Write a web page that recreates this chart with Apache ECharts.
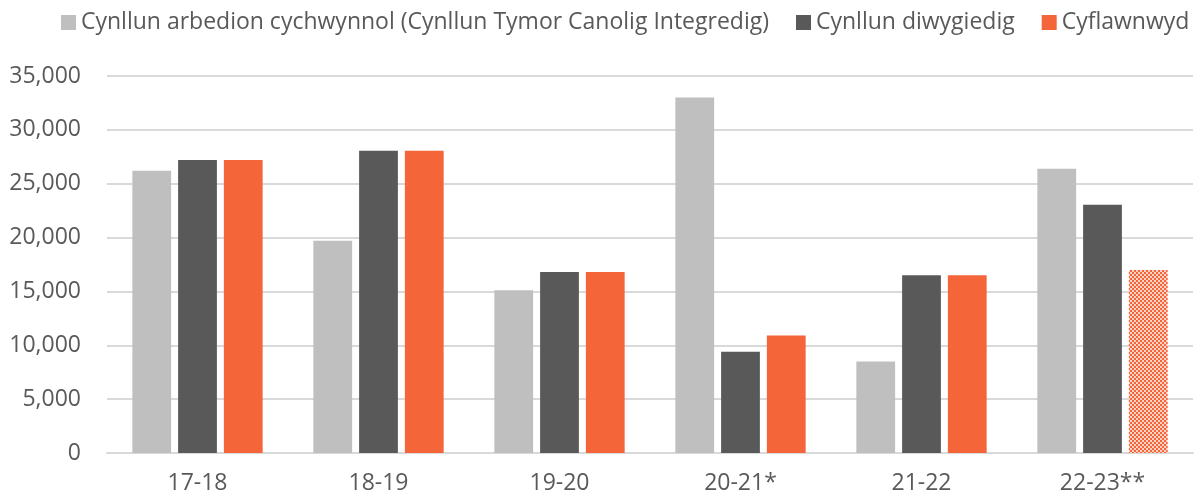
<!doctype html>
<html lang="cy">
<head>
  <meta charset="utf-8">
  <title>Arbedion</title>
  <style>
    html, body { margin: 0; padding: 0; background: #fff; }
    #chart { width: 1203px; height: 502px; }
  </style>
</head>
<body>
  <div id="chart"></div>
  <script src="https://cdn.jsdelivr.net/npm/echarts@6/dist/echarts.min.js"></script>
  <script>
    const years = ["17-18", "18-19", "19-20", "20-21*", "21-22", "22-23**"];
    const seriesNames = [
      "Cynllun arbedion cychwynnol (Cynllun Tymor Canolig Integredig)",
      "Cynllun diwygiedig",
      "Cyflawnwyd"
    ];
    const initialPlan = [26200, 19700, 15100, 33000, 8500, 26400];
    const revisedPlan = [27200, 28050, 16800, 9400, 16500, 23050];
    const achieved = [27200, 28050, 16800, 10900, 16500, 17000];
    const colors = ["#BFBFBF", "#595959", "#F4653A"];

    // patrwm dotiog ar gyfer y bar olaf (amcangyfrif)
    const pat = document.createElement("canvas");
    pat.width = 4; pat.height = 4;
    const pctx = pat.getContext("2d");
    pctx.fillStyle = "#FBD3C4";
    pctx.fillRect(0, 0, 4, 4);
    pctx.fillStyle = "#F4653A";
    pctx.fillRect(0, 0, 2, 2);
    pctx.fillRect(2, 2, 2, 2);

    const font = "'Open Sans', sans-serif";
    const chart = echarts.init(document.getElementById("chart"));

    const achievedData = achieved.map((v, i) => i === achieved.length - 1
      ? { value: v, itemStyle: { color: { image: pat, repeat: "repeat" } } }
      : v);

    chart.setOption({
      animation: false,
      textStyle: { fontFamily: font },
      legend: {
        left: 56,
        top: 6,
        width: 1600,
        itemWidth: 15,
        itemHeight: 15,
        itemGap: 27,
        icon: "rect",
        textStyle: { color: "#595959", fontSize: 23, fontFamily: font },
        data: seriesNames
      },
      grid: { left: 107, right: 10, top: 76, bottom: 49 },
      xAxis: {
        type: "category",
        data: years,
        axisLine: { lineStyle: { color: "#D9D9D9", width: 2 } },
        axisTick: { show: false },
        axisLabel: { color: "#595959", fontSize: 23, margin: 19 }
      },
      yAxis: {
        type: "value",
        min: 0,
        max: 35000,
        interval: 5000,
        axisLine: { show: false },
        axisTick: { show: false },
        splitLine: { lineStyle: { color: "#D9D9D9", width: 2 } },
        axisLabel: {
          color: "#595959",
          fontSize: 23,
          margin: 26,
          formatter: v => v.toLocaleString("en-GB")
        }
      },
      series: [
        { name: seriesNames[0], type: "bar", data: initialPlan, itemStyle: { color: colors[0] }, barGap: "18%", barCategoryGap: "28%" },
        { name: seriesNames[1], type: "bar", data: revisedPlan, itemStyle: { color: colors[1] } },
        { name: seriesNames[2], type: "bar", data: achievedData, itemStyle: { color: colors[2] } }
      ]
    });
  </script>
</body>
</html>
